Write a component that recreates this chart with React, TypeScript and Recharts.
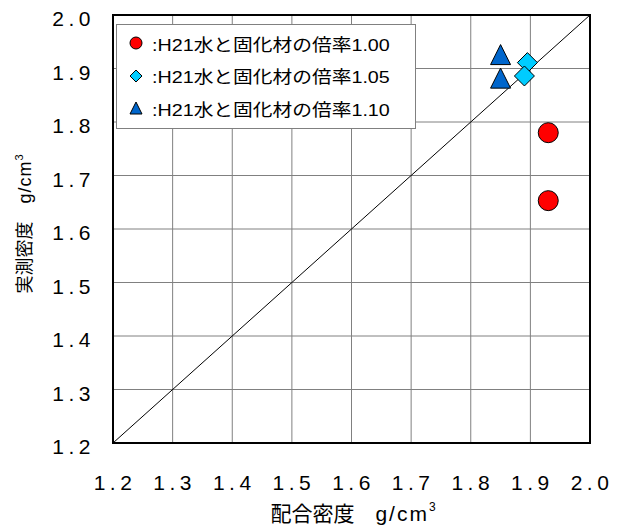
import {
	ReferenceArea,
	ReferenceLine,
	Scatter,
	ScatterChart,
	CartesianGrid,
	XAxis,
	YAxis,
} from "recharts";

const axisTicks = [1.2, 1.3, 1.4, 1.5, 1.6, 1.7, 1.8, 1.9, 2.0];

const ratio100Mix = [1.93, 1.93];
const ratio100Measured = [1.78, 1.653];
const ratio105Mix = [1.895, 1.89];
const ratio105Measured = [1.911, 1.886];
const ratio110Mix = [1.85, 1.85];
const ratio110Measured = [1.926, 1.882];

const seriesNames = [
	":H21水と固化材の倍率1.00",
	":H21水と固化材の倍率1.05",
	":H21水と固化材の倍率1.10",
];

const toPoints = (xs: number[], ys: number[]) =>
	xs.map((x, i) => ({ x, y: ys[i] }));

const FONT = '"Liberation Sans", Arial, "Noto Sans CJK JP", sans-serif';

const CircleMark = ({ cx, cy }: any) => (
	<circle cx={cx} cy={cy} r={10} fill="#ff0000" stroke="#000" strokeWidth={1} />
);

const DiamondMark = ({ cx, cy }: any) => (
	<path
		d={`M${cx},${cy - 10} L${cx + 10},${cy} L${cx},${cy + 10} L${cx - 10},${cy} Z`}
		fill="#00ccff"
		stroke="#000"
		strokeWidth={1}
	/>
);

const TriangleMark = ({ cx, cy }: any) => (
	<path
		d={`M${cx},${cy - 10} L${cx + 10},${cy + 10} L${cx - 10},${cy + 10} Z`}
		fill="#0066cc"
		stroke="#000"
		strokeWidth={1}
	/>
);

const XTick = ({ x, y, payload }: any) => (
	<text
		x={x}
		y={y}
		dy={47}
		dx={2}
		textAnchor="middle"
		fontSize={21}
		letterSpacing={4.5}
		fontFamily={FONT}
		fill="#000"
	>
		{payload.value.toFixed(1)}
	</text>
);

const YTick = ({ x, y, payload }: any) => (
	<text
		x={x}
		y={y}
		dy={11}
		dx={-18}
		textAnchor="end"
		fontSize={21}
		letterSpacing={4.5}
		fontFamily={FONT}
		fill="#000"
	>
		{payload.value.toFixed(1)}
	</text>
);

const legendMarks = [
	<circle key="c" cx={0} cy={0} r={6} fill="#ff0000" stroke="#000" strokeWidth={1} />,
	<path key="d" d="M0,-6 L6,0 L0,6 L-6,0 Z" fill="#00ccff" stroke="#000" strokeWidth={1} />,
	<path key="t" d="M0,-6 L6,6 L-6,6 Z" fill="#0066cc" stroke="#000" strokeWidth={1} />,
];

const LegendBox = () => (
	<div
		style={{
			position: "absolute",
			left: 116,
			top: 24,
			width: 300,
			height: 105,
			border: "1px solid #808080",
			background: "#fff",
			boxSizing: "border-box",
			paddingTop: 2,
		}}
	>
		{seriesNames.map((name, i) => (
			<div
				key={name}
				style={{
					display: "flex",
					alignItems: "center",
					height: 32.5,
					fontFamily: FONT,
					fontSize: 17,
					color: "#000",
				}}
			>
				<svg width={20} height={20} style={{ marginLeft: 9, marginRight: 6 }}>
					<g transform="translate(10,10)">{legendMarks[i]}</g>
				</svg>
				<span
					style={{
						display: "inline-block",
						whiteSpace: "nowrap",
						transform: "scaleX(1.16)",
						transformOrigin: "left center",
					}}
				>
					{name}
				</span>
			</div>
		))}
	</div>
);

export default function App() {
	return (
		<div style={{ position: "absolute", left: 0, top: 0, background: "#fff" }}>
			<ScatterChart
				width={622}
				height={527}
				margin={{ top: 15, right: 32, left: 0, bottom: 0 }}
			>
				<CartesianGrid stroke="#808080" strokeWidth={1} />
				<XAxis
					type="number"
					dataKey="x"
					domain={[1.2, 2.0]}
					ticks={axisTicks}
					height={84}
					axisLine={false}
					tickLine={false}
					tickSize={0}
					tickMargin={0}
					tick={<XTick />}
					interval={0}
					allowDataOverflow
				/>
				<YAxis
					type="number"
					dataKey="y"
					domain={[1.2, 2.0]}
					ticks={axisTicks}
					width={113}
					axisLine={false}
					tickLine={false}
					tickSize={0}
					tickMargin={0}
					tick={<YTick />}
					interval={0}
					allowDataOverflow
				/>
				<ReferenceLine
					segment={[
						{ x: 1.2, y: 1.2 },
						{ x: 2.0, y: 2.0 },
					]}
					stroke="#000"
					strokeWidth={1}
				/>
				<ReferenceArea
					x1={1.2}
					x2={2.0}
					y1={1.2}
					y2={2.0}
					fill="none"
					stroke="#000"
					strokeWidth={2}
					fillOpacity={0}
				/>
				<Scatter
					name={seriesNames[0]}
					data={toPoints(ratio100Mix, ratio100Measured)}
					shape={<CircleMark />}
					isAnimationActive={false}
				/>
				<Scatter
					name={seriesNames[1]}
					data={toPoints(ratio105Mix, ratio105Measured)}
					shape={<DiamondMark />}
					isAnimationActive={false}
				/>
				<Scatter
					name={seriesNames[2]}
					data={toPoints(ratio110Mix, ratio110Measured)}
					shape={<TriangleMark />}
					isAnimationActive={false}
				/>
				<text
					x={353}
					y={521}
					textAnchor="middle"
					fontSize={21}
					fontFamily={FONT}
					fill="#000"
				>
					配合密度　<tspan letterSpacing={2}>g/cm</tspan>
					<tspan fontSize={12} dy={-10}>3</tspan>
				</text>
				<text
					transform="translate(31,224) rotate(-90)"
					textAnchor="middle"
					fontSize={18}
					fontFamily={FONT}
					fill="#000"
				>
					実測密度　<tspan letterSpacing={1}>g/cm</tspan>
					<tspan fontSize={11} dy={-8}>3</tspan>
				</text>
			</ScatterChart>
			<LegendBox />
		</div>
	);
}
